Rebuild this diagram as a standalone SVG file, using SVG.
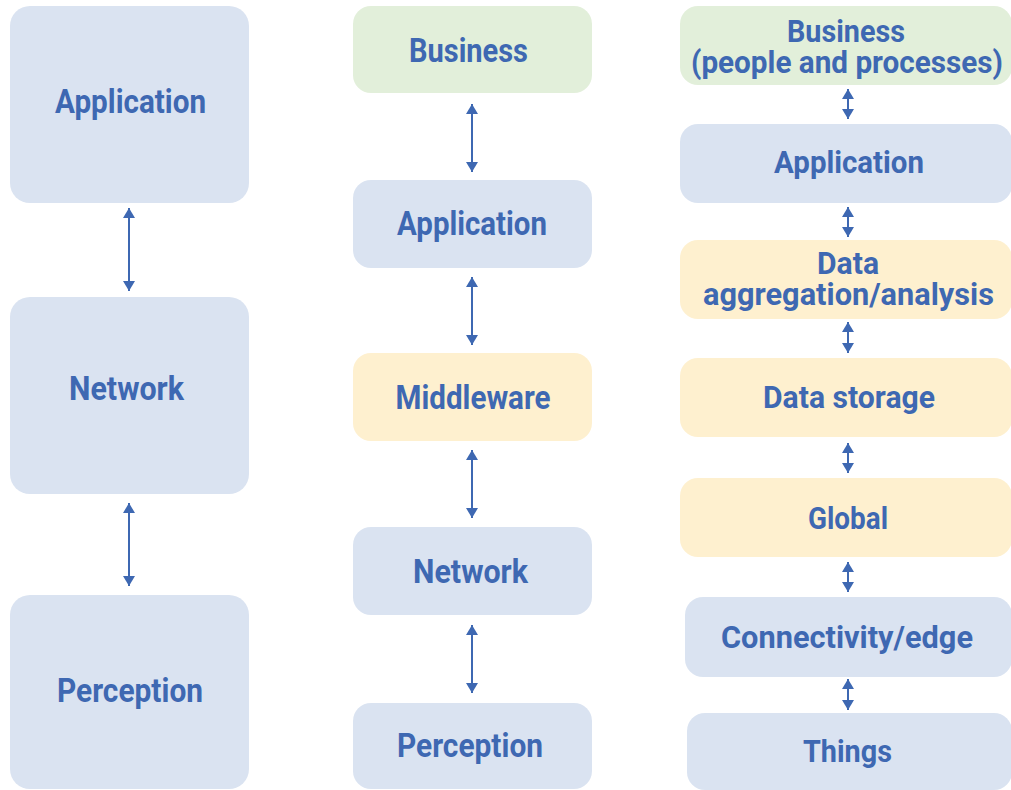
<svg xmlns="http://www.w3.org/2000/svg" width="1011" height="790" viewBox="0 0 1011 790">
  <style>
    .blue { fill: #dae3f1; }
    .green { fill: #e2efda; }
    .yellow { fill: #fef0cf; }
    .lbl { font-family: Roboto, "Liberation Sans", sans-serif; font-weight: 700; font-size: 34px; fill: #3e68b2; text-anchor: middle; }
    .sm { font-size: 32px; }
    .conn line { stroke: #3e68b2; stroke-width: 2; marker-start: url(#head); marker-end: url(#head); }
  </style>
  <defs>
    <marker id="head" viewBox="0 0 10 12" refX="10" refY="6" markerWidth="10" markerHeight="12" markerUnits="userSpaceOnUse" orient="auto-start-reverse">
      <path d="M0,0 L10,6 L0,12 Z" fill="#3e68b2"/>
    </marker>
  </defs>

  <!-- three-layer model -->
  <g id="l3-application"><rect class="blue" x="10" y="6" width="239" height="197" rx="20"/><text class="lbl" x="130.5" y="113" textLength="151" lengthAdjust="spacingAndGlyphs">Application</text></g>
  <g id="l3-network"><rect class="blue" x="10" y="297" width="239" height="197" rx="20"/><text class="lbl" x="126.5" y="400" textLength="115" lengthAdjust="spacingAndGlyphs">Network</text></g>
  <g id="l3-perception"><rect class="blue" x="10" y="595" width="239" height="194" rx="20"/><text class="lbl" x="130" y="702" textLength="146" lengthAdjust="spacingAndGlyphs">Perception</text></g>

  <!-- five-layer model -->
  <g id="l5-business"><rect class="green" x="353" y="6" width="239" height="87" rx="18"/><text class="lbl" x="468.5" y="62" textLength="119" lengthAdjust="spacingAndGlyphs">Business</text></g>
  <g id="l5-application"><rect class="blue" x="353" y="180" width="239" height="88" rx="18"/><text class="lbl" x="472" y="235" textLength="150" lengthAdjust="spacingAndGlyphs">Application</text></g>
  <g id="l5-middleware"><rect class="yellow" x="353" y="353" width="239" height="88" rx="18"/><text class="lbl" x="473" y="409" textLength="155" lengthAdjust="spacingAndGlyphs">Middleware</text></g>
  <g id="l5-network"><rect class="blue" x="353" y="527" width="239" height="88" rx="18"/><text class="lbl" x="470.5" y="583" textLength="115" lengthAdjust="spacingAndGlyphs">Network</text></g>
  <g id="l5-perception"><rect class="blue" x="353" y="703" width="239" height="86" rx="18"/><text class="lbl" x="470" y="757" textLength="146" lengthAdjust="spacingAndGlyphs">Perception</text></g>

  <!-- seven-layer model -->
  <g id="l7-business"><rect class="green" x="680" y="6" width="332" height="79" rx="18"/><text class="lbl sm" x="846" y="42" textLength="118" lengthAdjust="spacingAndGlyphs">Business</text><text class="lbl sm" x="847" y="73" textLength="312" lengthAdjust="spacingAndGlyphs">(people and processes)</text></g>
  <g id="l7-application"><rect class="blue" x="680" y="124" width="332" height="79" rx="18"/><text class="lbl sm" x="849" y="173" textLength="150" lengthAdjust="spacingAndGlyphs">Application</text></g>
  <g id="l7-aggregation"><rect class="yellow" x="680" y="240" width="332" height="79" rx="18"/><text class="lbl sm" x="848" y="274" textLength="62" lengthAdjust="spacingAndGlyphs">Data</text><text class="lbl sm" x="848.5" y="305" textLength="291" lengthAdjust="spacingAndGlyphs">aggregation/analysis</text></g>
  <g id="l7-storage"><rect class="yellow" x="680" y="358" width="332" height="79" rx="18"/><text class="lbl sm" x="849" y="408" textLength="172" lengthAdjust="spacingAndGlyphs">Data storage</text></g>
  <g id="l7-global"><rect class="yellow" x="680" y="478" width="332" height="79" rx="18"/><text class="lbl sm" x="848" y="529" textLength="80" lengthAdjust="spacingAndGlyphs">Global</text></g>
  <g id="l7-edge"><rect class="blue" x="685" y="597" width="327" height="80" rx="18"/><text class="lbl sm" x="847" y="648" textLength="252" lengthAdjust="spacingAndGlyphs">Connectivity/edge</text></g>
  <g id="l7-things"><rect class="blue" x="687" y="713" width="325" height="77" rx="18"/><text class="lbl sm" x="847.5" y="762" textLength="89" lengthAdjust="spacingAndGlyphs">Things</text></g>

  <g id="connectors" class="conn">
    <line x1="129" y1="208" x2="129" y2="291"/>
    <line x1="129" y1="503" x2="129" y2="586"/>

    <line x1="472" y1="104" x2="472" y2="172"/>
    <line x1="472" y1="277" x2="472" y2="345"/>
    <line x1="472" y1="450" x2="472" y2="518"/>
    <line x1="472" y1="625" x2="472" y2="693"/>

    <line x1="848" y1="89" x2="848" y2="119"/>
    <line x1="848" y1="207" x2="848" y2="237"/>
    <line x1="848" y1="322" x2="848" y2="353"/>
    <line x1="848" y1="443" x2="848" y2="473"/>
    <line x1="848" y1="562" x2="848" y2="592"/>
    <line x1="848" y1="679" x2="848" y2="710"/>
  </g>
</svg>
